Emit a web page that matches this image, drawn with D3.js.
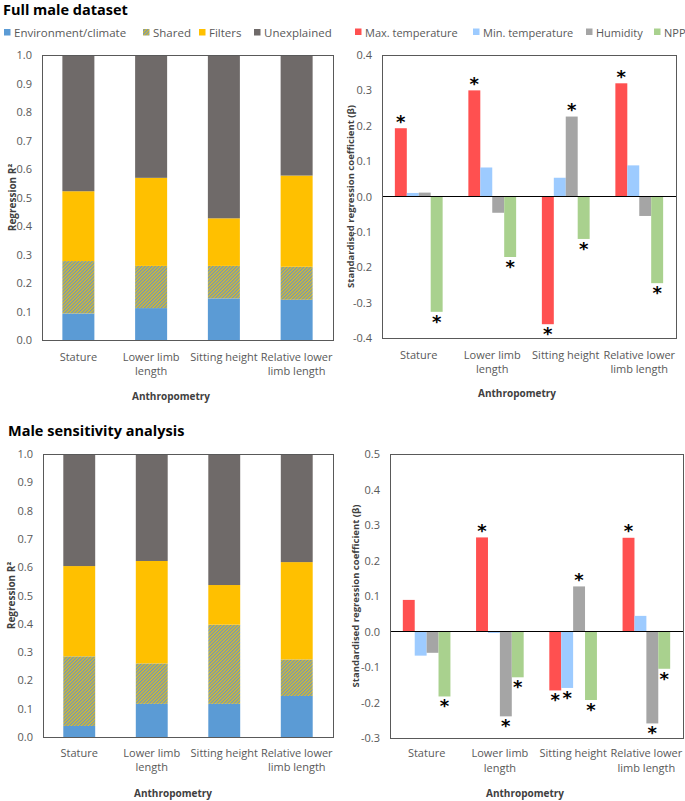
<!DOCTYPE html>
<html>
<head>
<meta charset="utf-8">
<script src="https://cdn.jsdelivr.net/npm/d3@7"></script>
<style>
  html, body { margin: 0; padding: 0; background: #fff; }
  svg { display: block; font-family: "Open Sans", "Noto Sans", sans-serif; }
</style>
</head>
<body>
<svg id="chart" width="685" height="801"></svg>
<script>
// ---------- DATA ----------
const categories = ["Stature", "Lower limb length", "Sitting height", "Relative lower limb length"];
const categoryLines = [["Stature"], ["Lower limb", "length"], ["Sitting height"], ["Relative lower", "limb length"]];

const componentNames = ["Environment/climate", "Shared", "Filters", "Unexplained"];
// Full male dataset, variance components (segment heights)
const fullEnv       = [0.093, 0.112, 0.146, 0.141];
const fullShared    = [0.184, 0.148, 0.114, 0.116];
const fullFilters   = [0.245, 0.309, 0.167, 0.320];
const fullUnexpl    = [0.478, 0.431, 0.573, 0.423];
// Male sensitivity analysis, variance components
const sensEnv       = [0.039, 0.117, 0.117, 0.145];
const sensShared    = [0.246, 0.143, 0.280, 0.129];
const sensFilters   = [0.319, 0.362, 0.140, 0.344];
const sensUnexpl    = [0.396, 0.378, 0.463, 0.382];

const climateNames = ["Max. temperature", "Min. temperature", "Humidity", "NPP"];
// Full male dataset, standardised coefficients
const fullMaxT = [0.193, 0.300, -0.361, 0.320];
const fullMinT = [0.010, 0.082, 0.053, 0.088];
const fullHum  = [0.011, -0.046, 0.226, -0.055];
const fullNPP  = [-0.326, -0.171, -0.120, -0.245];
const fullSig  = { maxT: [1,1,1,1], minT: [0,0,0,0], hum: [0,0,1,0], npp: [1,1,1,1] };
// Male sensitivity analysis, standardised coefficients
const sensMaxT = [0.089, 0.265, -0.166, 0.264];
const sensMinT = [-0.068, -0.004, -0.159, 0.044];
const sensHum  = [-0.060, -0.239, 0.127, -0.259];
const sensNPP  = [-0.183, -0.129, -0.193, -0.105];
const sensSig  = { maxT: [0,1,1,1], minT: [0,0,1,0], hum: [0,1,1,1], npp: [1,1,1,1] };

const r2Ticks = [0, 0.1, 0.2, 0.3, 0.4, 0.5, 0.6, 0.7, 0.8, 0.9, 1.0];
const betaTicksFull = [-0.4, -0.3, -0.2, -0.1, 0, 0.1, 0.2, 0.3, 0.4];
const betaTicksSens = [-0.3, -0.2, -0.1, 0, 0.1, 0.2, 0.3, 0.4, 0.5];

const panelTitles = ["Full male dataset", "Male sensitivity analysis"];
const xTitle = "Anthropometry";
const yTitleLeft = "Regression R\u00B2";
const yTitleRight = "Standardised regression coefficient (\u03B2)";

// ---------- STYLE ----------
const compColors = ["#5B9BD5", "url(#sharedPat)", "#FFC000", "#6F6A69"];
const climColors = ["#FF5050", "#9DCBFF", "#A5A5A5", "#A9D18E"];
const axisCol = "#595959";
const textCol = "#595959";

const svg = d3.select("#chart");
svg.append("rect").attr("width", 685).attr("height", 801).attr("fill", "#fff");

const defs = svg.append("defs");
const pat = defs.append("pattern").attr("id", "sharedPat").attr("patternUnits", "userSpaceOnUse")
  .attr("width", 2.4).attr("height", 2.4).attr("patternTransform", "rotate(45)");
pat.append("rect").attr("width", 2.4).attr("height", 2.4).attr("fill", "#DDBE22");
pat.append("rect").attr("width", 1.2).attr("height", 2.4).attr("fill", "#6E95BE");

// ---------- HELPERS ----------
function fmt(v) { return d3.format(".1f")(v).replace("\u2212", "-"); }

function frame(g, x0, x1, y0, y1) {
  g.append("rect").attr("x", x0).attr("y", y0).attr("width", x1 - x0).attr("height", y1 - y0)
    .attr("fill", "none").attr("stroke", axisCol).attr("stroke-width", 1).attr("shape-rendering", "crispEdges");
}

function yAxisLabels(g, y, ticks, x0) {
  const ax = d3.axisLeft(y).tickValues(ticks).tickFormat(fmt).tickSize(0).tickPadding(10);
  const a = g.append("g").attr("transform", `translate(${x0},0)`).call(ax);
  a.select(".domain").remove();
  a.selectAll("text").attr("fill", textCol).style("font-size", "11px").style("font-family", "Open Sans");
}

function xLabels(g, x, lineY1, lineY2) {
  categories.forEach((c, i) => {
    const cx = x(c) + x.bandwidth() / 2;
    categoryLines[i].forEach((ln, j) => {
      g.append("text").attr("x", cx).attr("y", j === 0 ? lineY1 : lineY2)
        .attr("text-anchor", "middle").attr("dominant-baseline", "central")
        .attr("fill", textCol).style("font-size", "11px").text(ln);
    });
  });
}

function axisTitleX(g, cx, cy) {
  g.append("text").attr("x", cx).attr("y", cy).attr("text-anchor", "middle")
    .attr("dominant-baseline", "central").attr("fill", "#404040")
    .style("font-size", "10px").style("font-weight", "bold").text(xTitle);
}
function axisTitleY(g, cx, cy, txt, fs) {
  g.append("text").attr("transform", `translate(${cx},${cy}) rotate(-90)`)
    .attr("text-anchor", "middle").attr("dominant-baseline", "central").attr("fill", "#404040")
    .style("font-size", fs + "px").style("font-weight", "bold").text(txt);
}

// ---------- STACKED PANELS ----------
function drawStacked(cfg) {
  const g = svg.append("g");
  const x = d3.scaleBand().domain(categories).range([cfg.x0, cfg.x1]).paddingInner(0.56).paddingOuter(0.28);
  const y = d3.scaleLinear().domain([0, 1]).range([cfg.y1, cfg.y0]);
  const rows = categories.map((c, i) => ({
    cat: c,
    "Environment/climate": cfg.env[i], "Shared": cfg.shared[i], "Filters": cfg.filters[i], "Unexplained": cfg.unexpl[i]
  }));
  const stack = d3.stack().keys(componentNames)(rows);
  stack.forEach((layer, k) => {
    g.selectAll(null).data(layer).enter().append("rect")
      .attr("x", d => x(d.data.cat)).attr("width", x.bandwidth())
      .attr("y", d => y(d[1])).attr("height", d => y(d[0]) - y(d[1]))
      .attr("fill", compColors[k]);
  });
  frame(g, cfg.x0, cfg.x1, cfg.y0, cfg.y1);
  yAxisLabels(g, y, r2Ticks, cfg.x0);
  xLabels(g, x, cfg.lab1, cfg.lab2);
  axisTitleX(g, cfg.xtx, cfg.xty);
  axisTitleY(g, cfg.ytx, (cfg.y0 + cfg.y1) / 2, yTitleLeft, 10);
}

// ---------- GROUPED PANELS ----------
function drawGrouped(cfg) {
  const g = svg.append("g");
  const x = d3.scaleBand().domain(categories).range([cfg.x0, cfg.x1]).paddingInner(0.35).paddingOuter(0.175);
  const xs = d3.scaleBand().domain(climateNames).range([0, x.bandwidth()]);
  const y = d3.scaleLinear().domain(cfg.domain).range([cfg.y1, cfg.y0]);
  const series = [cfg.maxT, cfg.minT, cfg.hum, cfg.npp];
  const sigs = [cfg.sig.maxT, cfg.sig.minT, cfg.sig.hum, cfg.sig.npp];
  series.forEach((vals, k) => {
    const data = categories.map((c, i) => ({ cat: c, v: vals[i], s: sigs[k][i] }));
    g.selectAll(null).data(data).enter().append("rect")
      .attr("x", d => x(d.cat) + xs(climateNames[k])).attr("width", xs.bandwidth())
      .attr("y", d => y(Math.max(0, d.v))).attr("height", d => Math.abs(y(d.v) - y(0)))
      .attr("fill", climColors[k]);
    g.selectAll(null).data(data.filter(d => d.s)).enter().append("text")
      .attr("x", d => x(d.cat) + xs(climateNames[k]) + xs.bandwidth() / 2)
      .attr("y", d => d.v >= 0 ? y(d.v) - 0.5 : y(d.v) + 16)
      .attr("text-anchor", "middle").attr("fill", "#000")
      .style("font-size", "18px").style("font-weight", "bold").style("font-family", "DejaVu Sans").text("*");
  });
  g.append("line").attr("x1", cfg.x0).attr("x2", cfg.x1).attr("y1", y(0)).attr("y2", y(0))
    .attr("stroke", "#000").attr("stroke-width", 1).attr("shape-rendering", "crispEdges");
  frame(g, cfg.x0, cfg.x1, cfg.y0, cfg.y1);
  yAxisLabels(g, y, cfg.ticks, cfg.x0);
  xLabels(g, x, cfg.lab1, cfg.lab2);
  axisTitleX(g, cfg.xtx, cfg.xty);
  axisTitleY(g, cfg.ytx, (cfg.y0 + cfg.y1) / 2, yTitleRight, 9.5);
}

// ---------- TITLES & LEGENDS ----------
svg.append("text").attr("x", 3).attr("y", 14.5).style("font-size", "14.5px").style("font-weight", "bold")
  .attr("fill", "#000").text(panelTitles[0]);
svg.append("text").attr("x", 8).attr("y", 436).style("font-size", "14.5px").style("font-weight", "bold")
  .attr("fill", "#000").text(panelTitles[1]);

const leftLegendX = [4, 143, 199, 254];
componentNames.forEach((n, i) => {
  svg.append("rect").attr("x", leftLegendX[i]).attr("y", 29).attr("width", 6.5).attr("height", 6.5)
    .attr("fill", compColors[i]);
  svg.append("text").attr("x", leftLegendX[i] + 10).attr("y", 32.5).attr("dominant-baseline", "central")
    .attr("fill", textCol).style("font-size", "11.5px").text(n);
});
const rightLegendX = [355, 473, 586, 654];
climateNames.forEach((n, i) => {
  svg.append("rect").attr("x", rightLegendX[i]).attr("y", 28.5).attr("width", 6.5).attr("height", 6.5)
    .attr("fill", climColors[i]);
  svg.append("text").attr("x", rightLegendX[i] + 10).attr("y", 32).attr("dominant-baseline", "central")
    .attr("fill", textCol).style("font-size", "11px").text(n);
});

// ---------- PANELS ----------
drawStacked({ x0: 42, x1: 333, y0: 55, y1: 340, env: fullEnv, shared: fullShared, filters: fullFilters, unexpl: fullUnexpl,
  lab1: 356, lab2: 370, xtx: 171, xty: 396, ytx: 12 });
drawStacked({ x0: 43, x1: 333, y0: 454, y1: 737, env: sensEnv, shared: sensShared, filters: sensFilters, unexpl: sensUnexpl,
  lab1: 752, lab2: 766, xtx: 173, xty: 793, ytx: 11 });
drawGrouped({ x0: 382, x1: 676, y0: 55, y1: 338, domain: [-0.4, 0.4], ticks: betaTicksFull,
  maxT: fullMaxT, minT: fullMinT, hum: fullHum, npp: fullNPP, sig: fullSig,
  lab1: 354, lab2: 368, xtx: 517, xty: 393, ytx: 350 });
drawGrouped({ x0: 390, x1: 683, y0: 454, y1: 738, domain: [-0.3, 0.5], ticks: betaTicksSens,
  maxT: sensMaxT, minT: sensMinT, hum: sensHum, npp: sensNPP, sig: sensSig,
  lab1: 752, lab2: 767, xtx: 525, xty: 793, ytx: 355 });
</script>
</body>
</html>
